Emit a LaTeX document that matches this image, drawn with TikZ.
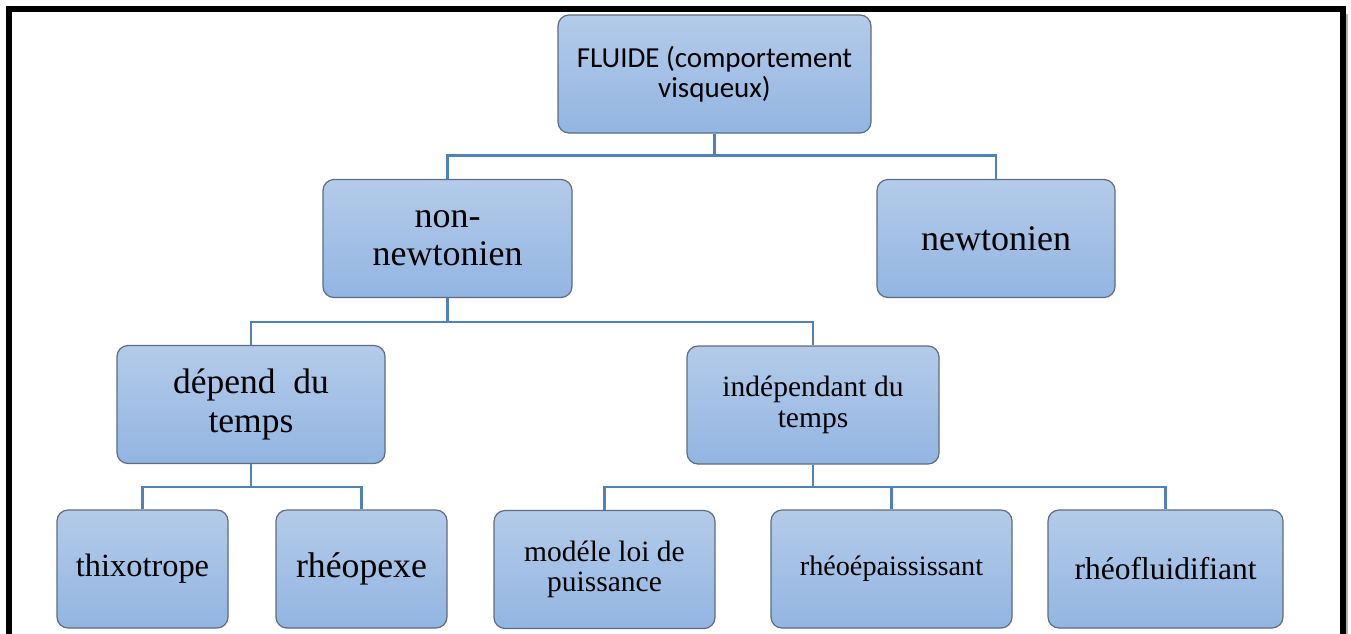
\documentclass[tikz,border=0pt]{standalone}
\usepackage{fontspec}
\setmainfont{Liberation Serif}
\newfontfamily\calibri{Carlito}
\definecolor{boxtop}{RGB}{180,203,233}
\definecolor{boxbot}{RGB}{146,181,226}
\definecolor{boxline}{RGB}{95,108,128}
\definecolor{linkblue}{RGB}{79,129,189}
\begin{document}
\begin{tikzpicture}[x=1pt,y=-1pt,
  box/.style={draw=boxline, line width=1.2pt, rounded corners=11pt,
    top color=boxtop, bottom color=boxbot, inner sep=0pt,
    minimum height=118pt, align=center, text=black},
  fs/.style 2 args={font=\fontsize{#1}{#2}\selectfont},
  link/.style={draw=linkblue, line width=2.2pt}]
\useasboundingbox (0,0) rectangle (1351,633);
\fill[white] (0,0) rectangle (1351,633);
% outer frame with a faint shadow on its right side
\draw[gray!60, line width=1.5pt] (1347,14) -- (1347,640);
\draw[black, line width=6pt] (9,650) -- (9,9) -- (1343,9) -- (1343,650);

% tree nodes
\node[box, minimum width=313pt, font=\calibri\fontsize{29}{30}\selectfont] (fluide) at (714.5,74)
  {FLUIDE (comportement\\visqueux)};
\node[box, minimum width=249pt, fs={36}{38}] (nonnewt) at (447.5,238.5)
  {non-\\newtonien};
\node[box, minimum width=238pt, fs={36}{38}] (newt) at (996,238.5)
  {newtonien};
\node[box, minimum width=268pt, fs={35.5}{39}] (depend) at (251,404.5)
  {dépend\ \ du\\temps};
\node[box, minimum width=252pt, fs={29.5}{31}] (indep) at (813,405)
  {indépendant du\\temps};
\node[box, minimum width=171pt, fs={32.4}{34}] (thixo) at (142.5,569)
  {thixotrope};
\node[box, minimum width=171pt, fs={35.7}{38}] (rheop) at (361.5,569)
  {rhéopexe};
\node[box, minimum width=221pt, fs={29.5}{30}] (modele) at (604.5,569.5)
  {modéle loi de\\puissance};
\node[box, minimum width=241pt, fs={28.2}{30}] (rheoep) at (891.5,569)
  {rhéoépaississant};
\node[box, minimum width=235pt, fs={31.5}{33}] (rheofl) at (1165.5,569)
  {rhéofluidifiant};

% heights of the horizontal bars
\coordinate (barA) at (0,155.5);
\coordinate (barB) at (0,322);
\coordinate (barC) at (0,487);

% connectors
\draw[link] (fluide.south) -- (fluide.south |- barA) -| (nonnewt.north);
\draw[link] (fluide.south) -- (fluide.south |- barA) -| (newt.north);
\draw[link] (nonnewt.south) -- (nonnewt.south |- barB) -| (depend.north);
\draw[link] (nonnewt.south) -- (nonnewt.south |- barB) -| (indep.north);
\draw[link] (depend.south) -- (depend.south |- barC) -| (thixo.north);
\draw[link] (depend.south) -- (depend.south |- barC) -| (rheop.north);
\draw[link] (indep.south) -- (indep.south |- barC) -| (modele.north);
\draw[link] (indep.south) -- (indep.south |- barC) -| (rheoep.north);
\draw[link] (indep.south) -- (indep.south |- barC) -| (rheofl.north);
\end{tikzpicture}
\end{document}
